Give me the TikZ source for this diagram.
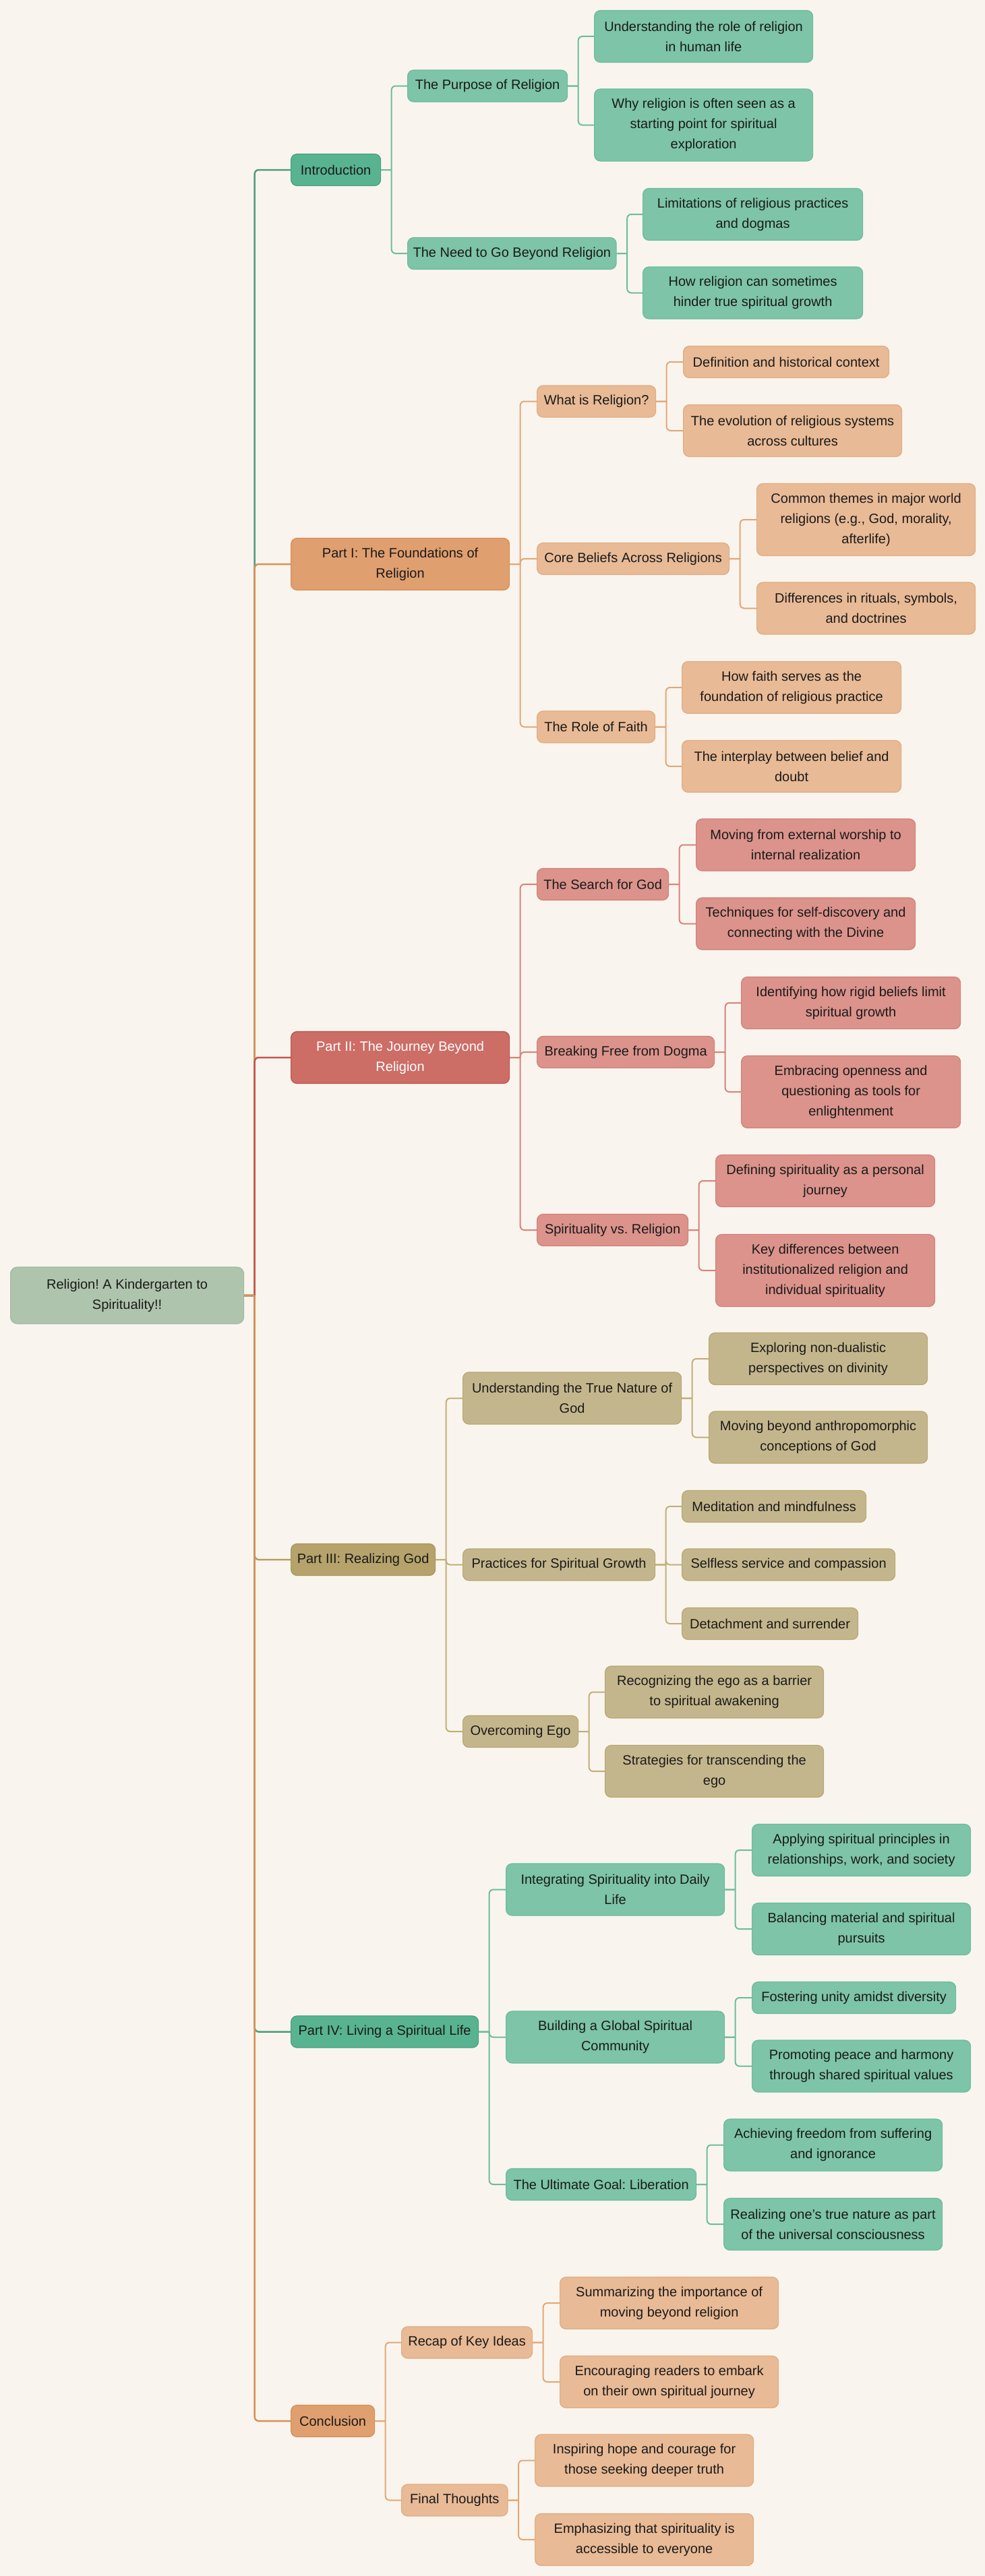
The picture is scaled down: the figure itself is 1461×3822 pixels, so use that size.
\documentclass[tikz,border=0pt]{standalone}
\usepackage{fontspec}
\setmainfont{Liberation Sans}
\usetikzlibrary{positioning}
\definecolor{paper}{HTML}{F9F5EE}
\definecolor{ink}{HTML}{1A1A1A}
\definecolor{rootfill}{HTML}{AFC4AC}
\definecolor{rootline}{HTML}{A2BA9F}
\definecolor{greenpart}{HTML}{58B391}
\definecolor{greenpartline}{HTML}{4A9E7E}
\definecolor{greensub}{HTML}{7DC4A8}
\definecolor{greensubline}{HTML}{6CBB9B}
\definecolor{greentrunk}{HTML}{4E9E7F}
\definecolor{greenlink}{HTML}{6CBD9C}
\definecolor{orangepart}{HTML}{E09F6F}
\definecolor{orangepartline}{HTML}{D68D59}
\definecolor{orangesub}{HTML}{E8BA96}
\definecolor{orangesubline}{HTML}{E2AB80}
\definecolor{orangetrunk}{HTML}{DA9055}
\definecolor{orangelink}{HTML}{E3A777}
\definecolor{redpart}{HTML}{CC6D66}
\definecolor{redpartline}{HTML}{C1524B}
\definecolor{redsub}{HTML}{DB938B}
\definecolor{redsubline}{HTML}{D37F77}
\definecolor{redtrunk}{HTML}{C8554D}
\definecolor{redlink}{HTML}{D8837B}
\definecolor{khakipart}{HTML}{B5A36B}
\definecolor{khakipartline}{HTML}{A8955C}
\definecolor{khakisub}{HTML}{C4B68C}
\definecolor{khakisubline}{HTML}{B8A772}
\definecolor{khakitrunk}{HTML}{B49E62}
\definecolor{khakilink}{HTML}{C2AE78}
\tikzset{box/.style={shape=rectangle,rounded corners=9pt,line width=1.2pt,align=center,
        anchor=west,inner xsep=8pt,inner ysep=0pt,text=ink,
        font=\fontsize{20}{30}\selectfont\frenchspacing,
        minimum width=324pt,minimum height=47pt},
    rows/.style={minimum height={30pt*#1+17pt}},
    wd/.style={minimum width=#1pt},
    topic/.style={box,fill=rootfill,draw=rootline,rounded corners=10pt,
        minimum width=346pt,minimum height=84pt},
    part/.style={box,fill=#1part,draw=#1partline},
    sub/.style={box,fill=#1sub,draw=#1subline},
    elbow/.style={to path={-- ++(15.5,0) ++(0,0) [rounded corners=6pt] |- (\tikztotarget)}},
    trunk/.style={draw=#1trunk,line width=2.5pt,elbow},
    link/.style={draw=#1link,line width=2pt,elbow}}
\begin{document}
\begin{tikzpicture}[x=1pt,y=-1pt]
\fill[paper] (0,0) rectangle (1461,3822);
\node[topic] (root) at (15,1922) {Religion! A Kindergarten to\\Spirituality!!};
% Introduction
\node[part=green,wd=133] (intro) at (431,252) {Introduction};
\node[sub=green,wd=237] (purpose) at (604,127.5) {The Purpose of Religion};
\node[sub=green,rows=2] (role) at (881,54) {Understanding the role of religion\\in human life};
\node[sub=green,rows=3] (start) at (881,185.5) {Why religion is often seen as a\\starting point for spiritual\\exploration};
\node[sub=green,wd=309] (need) at (604,376) {The Need to Go Beyond Religion};
\node[sub=green,wd=326,rows=2] (limits) at (953,318) {Limitations of religious practices\\and dogmas};
\node[sub=green,wd=326,rows=2] (hinder) at (953,434.5) {How religion can sometimes\\hinder true spiritual growth};
% Part I
\node[part=orange,rows=2] (found) at (431,837) {Part I: The Foundations of\\Religion};
\node[sub=orange,wd=176] (whatis) at (796,595.5) {What is Religion?};
\node[sub=orange,wd=305] (defn) at (1013,537) {Definition and historical context};
\node[sub=orange,rows=2] (evol) at (1013,639) {The evolution of religious systems\\across cultures};
\node[sub=orange,wd=285] (core) at (796,829) {Core Beliefs Across Religions};
\node[sub=orange,rows=3] (themes) at (1122,771) {Common themes in major world\\religions (e.g., God, morality,\\afterlife)};
\node[sub=orange,rows=2] (rituals) at (1122,902.5) {Differences in rituals, symbols,\\and doctrines};
\node[sub=orange,wd=175] (faith) at (796,1078.5) {The Role of Faith};
\node[sub=orange,wd=325,rows=2] (serves) at (1011,1020) {How faith serves as the\\foundation of religious practice};
\node[sub=orange,wd=325,rows=2] (interplay) at (1011,1137) {The interplay between belief and\\doubt};
% Part II
\node[part=red,rows=2,text=white] (journey) at (431,1569) {Part II: The Journey Beyond\\Religion};
\node[sub=red,wd=195] (search) at (796,1312) {The Search for God};
\node[sub=red,wd=325,rows=2] (inward) at (1032,1253.5) {Moving from external worship to\\internal realization};
\node[sub=red,wd=325,rows=2] (techniques) at (1032,1370.5) {Techniques for self-discovery and\\connecting with the Divine};
\node[sub=red,wd=263] (dogma) at (796,1561) {Breaking Free from Dogma};
\node[sub=red,wd=325,rows=2] (rigid) at (1099,1488) {Identifying how rigid beliefs limit\\spiritual growth};
\node[sub=red,wd=325,rows=3] (openness) at (1099,1620) {Embracing openness and\\questioning as tools for\\enlightenment};
\node[sub=red,wd=224] (versus) at (796,1825) {Spirituality vs. Religion};
\node[sub=red,wd=325,rows=2] (personal) at (1061,1752) {Defining spirituality as a personal\\journey};
\node[sub=red,wd=325,rows=3] (keydiff) at (1061,1885) {Key differences between\\institutionalized religion and\\individual spirituality};
% Part III
\node[part=khaki,wd=214] (realize) at (431,2314) {Part III: Realizing God};
\node[sub=khaki,rows=2] (nature) at (686,2074.5) {Understanding the True Nature of\\God};
\node[sub=khaki,rows=2] (nondual) at (1051,2016) {Exploring non-dualistic\\perspectives on divinity};
\node[sub=khaki,rows=2] (anthro) at (1051,2132.5) {Moving beyond anthropomorphic\\conceptions of God};
\node[sub=khaki,wd=285] (practices) at (686,2321.5) {Practices for Spiritual Growth};
\node[sub=khaki,wd=273] (meditation) at (1011,2235) {Meditation and mindfulness};
\node[sub=khaki,wd=316] (selfless) at (1011,2321.5) {Selfless service and compassion};
\node[sub=khaki,wd=261] (detach) at (1011,2409) {Detachment and surrender};
\node[sub=khaki,wd=171] (ego) at (686,2569) {Overcoming Ego};
\node[sub=khaki,rows=2] (barrier) at (897,2510.5) {Recognizing the ego as a barrier\\to spiritual awakening};
\node[sub=khaki,rows=2] (transcend) at (897,2628) {Strategies for transcending the\\ego};
% Part IV
\node[part=green,wd=278] (living) at (431,3014.5) {Part IV: Living a Spiritual Life};
\node[sub=green,rows=2] (daily) at (750,2803.5) {Integrating Spirituality into Daily\\Life};
\node[sub=green,rows=2] (apply) at (1115,2745) {Applying spiritual principles in\\relationships, work, and society};
\node[sub=green,rows=2] (balance) at (1115,2862) {Balancing material and spiritual\\pursuits};
\node[sub=green,rows=2] (community) at (750,3022.5) {Building a Global Spiritual\\Community};
\node[sub=green,wd=302] (unity) at (1115,2964) {Fostering unity amidst diversity};
\node[sub=green,rows=2] (peace) at (1115,3065.5) {Promoting peace and harmony\\through shared spiritual values};
\node[sub=green,wd=282] (liberation) at (750,3241) {The Ultimate Goal: Liberation};
\node[sub=green,rows=2] (freedom) at (1073,3182.5) {Achieving freedom from suffering\\and ignorance};
\node[sub=green,rows=2] (truenature) at (1073,3300) {Realizing one's true nature as part\\of the universal consciousness};
% Conclusion
\node[part=orange,wd=124] (concl) at (431,3592) {Conclusion};
\node[sub=orange,wd=194] (recap) at (595,3475.5) {Recap of Key Ideas};
\node[sub=orange,rows=2] (summary) at (830,3417) {Summarizing the importance of\\moving beyond religion};
\node[sub=orange,rows=2] (embark) at (830,3534) {Encouraging readers to embark\\on their own spiritual journey};
\node[sub=orange,wd=157.5] (final) at (595,3709.5) {Final Thoughts};
\node[sub=orange,rows=2] (hope) at (793,3650.5) {Inspiring hope and courage for\\those seeking deeper truth};
\node[sub=orange,rows=2] (access) at (793,3768) {Emphasizing that spirituality is\\accessible to everyone};
% connectors
\foreach \p/\c in {intro/green,found/orange,journey/red,realize/khaki,living/green,concl/orange}
  \draw[trunk=\c] (root.east) to (\p.west);
\foreach \p/\k/\c in {intro/purpose/green,intro/need/green,purpose/role/green,purpose/start/green,
    need/limits/green,need/hinder/green,
    found/whatis/orange,found/core/orange,found/faith/orange,whatis/defn/orange,whatis/evol/orange,
    core/themes/orange,core/rituals/orange,faith/serves/orange,faith/interplay/orange,
    journey/search/red,journey/dogma/red,journey/versus/red,search/inward/red,search/techniques/red,
    dogma/rigid/red,dogma/openness/red,versus/personal/red,versus/keydiff/red,
    realize/nature/khaki,realize/practices/khaki,realize/ego/khaki,nature/nondual/khaki,
    nature/anthro/khaki,practices/meditation/khaki,practices/selfless/khaki,practices/detach/khaki,
    ego/barrier/khaki,ego/transcend/khaki,
    living/daily/green,living/community/green,living/liberation/green,daily/apply/green,
    daily/balance/green,community/unity/green,community/peace/green,liberation/freedom/green,
    liberation/truenature/green,
    concl/recap/orange,concl/final/orange,recap/summary/orange,recap/embark/orange,
    final/hope/orange,final/access/orange}
  \draw[link=\c] (\p.east) to (\k.west);
\end{tikzpicture}
\end{document}
